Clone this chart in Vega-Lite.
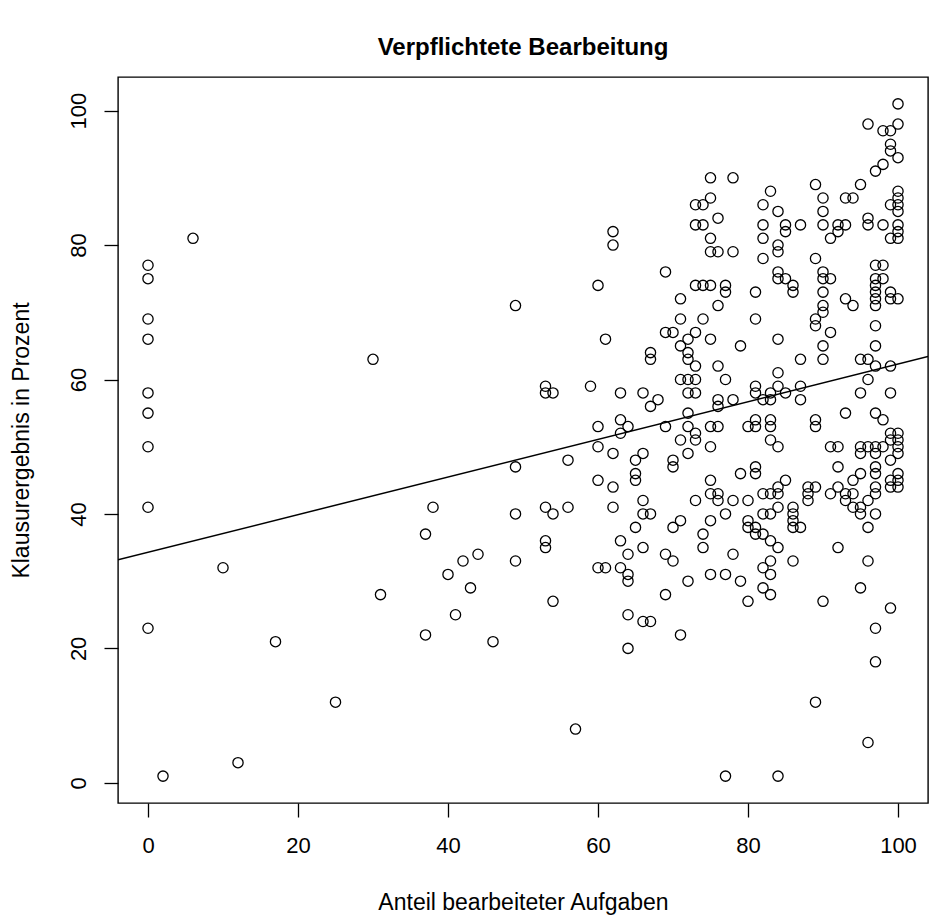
{
  "$schema": "https://vega.github.io/schema/vega-lite/v6.json",
  "width": 810,
  "height": 726,
  "autosize": "none",
  "padding": {"left": 118, "top": 77, "right": 1, "bottom": 114},
  "background": "white",
  "config": {
    "view": {"stroke": "black", "strokeWidth": 1.4},
    "font": "Liberation Sans"
  },
  "title": {
    "text": "Verpflichtete Bearbeitung",
    "fontSize": 24,
    "fontWeight": "bold",
    "font": "Liberation Sans",
    "color": "black",
    "anchor": "middle",
    "offset": 17
  },
  "datasets": {
    "punkte": [
      {"anteil":0,"ergebnis":77},{"anteil":0,"ergebnis":75},{"anteil":0,"ergebnis":69},{"anteil":0,"ergebnis":66},{"anteil":0,"ergebnis":58},{"anteil":0,"ergebnis":55},{"anteil":0,"ergebnis":50},{"anteil":0,"ergebnis":41},{"anteil":0,"ergebnis":23},
      {"anteil":2,"ergebnis":1},{"anteil":6,"ergebnis":81},{"anteil":10,"ergebnis":32},{"anteil":12,"ergebnis":3},{"anteil":17,"ergebnis":21},{"anteil":25,"ergebnis":12},{"anteil":30,"ergebnis":63},{"anteil":31,"ergebnis":28},
      {"anteil":37,"ergebnis":37},{"anteil":37,"ergebnis":22},{"anteil":38,"ergebnis":41},{"anteil":40,"ergebnis":31},{"anteil":41,"ergebnis":25},{"anteil":42,"ergebnis":33},{"anteil":43,"ergebnis":29},{"anteil":44,"ergebnis":34},{"anteil":46,"ergebnis":21},
      {"anteil":49,"ergebnis":71},{"anteil":49,"ergebnis":47},{"anteil":49,"ergebnis":40},{"anteil":49,"ergebnis":33},
      {"anteil":53,"ergebnis":59},{"anteil":53,"ergebnis":58},{"anteil":54,"ergebnis":58},{"anteil":53,"ergebnis":41},{"anteil":54,"ergebnis":40},{"anteil":53,"ergebnis":36},{"anteil":53,"ergebnis":35},{"anteil":54,"ergebnis":27},
      {"anteil":56,"ergebnis":48},{"anteil":56,"ergebnis":41},{"anteil":57,"ergebnis":8},{"anteil":59,"ergebnis":59},
      {"anteil":62,"ergebnis":82},{"anteil":62,"ergebnis":80},{"anteil":60,"ergebnis":74},{"anteil":69,"ergebnis":76},{"anteil":73,"ergebnis":86},{"anteil":74,"ergebnis":86},{"anteil":73,"ergebnis":83},{"anteil":74,"ergebnis":83},{"anteil":73,"ergebnis":74},{"anteil":74,"ergebnis":74},{"anteil":71,"ergebnis":72},{"anteil":71,"ergebnis":69},{"anteil":74,"ergebnis":69},{"anteil":69,"ergebnis":67},{"anteil":70,"ergebnis":67},{"anteil":73,"ergebnis":67},
      {"anteil":61,"ergebnis":66},{"anteil":72,"ergebnis":66},{"anteil":71,"ergebnis":65},{"anteil":72,"ergebnis":64},{"anteil":67,"ergebnis":64},{"anteil":67,"ergebnis":63},{"anteil":72,"ergebnis":63},{"anteil":73,"ergebnis":62},{"anteil":71,"ergebnis":60},{"anteil":72,"ergebnis":60},{"anteil":73,"ergebnis":60},{"anteil":72,"ergebnis":58},{"anteil":73,"ergebnis":58},{"anteil":63,"ergebnis":58},{"anteil":66,"ergebnis":58},{"anteil":68,"ergebnis":57},{"anteil":67,"ergebnis":56},{"anteil":72,"ergebnis":55},{"anteil":63,"ergebnis":54},{"anteil":64,"ergebnis":53},{"anteil":60,"ergebnis":53},{"anteil":63,"ergebnis":52},{"anteil":69,"ergebnis":53},{"anteil":72,"ergebnis":53},{"anteil":73,"ergebnis":52},{"anteil":73,"ergebnis":51},{"anteil":71,"ergebnis":51},{"anteil":60,"ergebnis":50},{"anteil":62,"ergebnis":49},{"anteil":66,"ergebnis":49},{"anteil":65,"ergebnis":48},{"anteil":70,"ergebnis":48},{"anteil":70,"ergebnis":47},{"anteil":72,"ergebnis":49},{"anteil":65,"ergebnis":46},{"anteil":65,"ergebnis":45},{"anteil":60,"ergebnis":45},{"anteil":62,"ergebnis":44},{"anteil":73,"ergebnis":42},{"anteil":66,"ergebnis":42},{"anteil":62,"ergebnis":41},{"anteil":66,"ergebnis":40},{"anteil":67,"ergebnis":40},{"anteil":71,"ergebnis":39},{"anteil":70,"ergebnis":38},{"anteil":65,"ergebnis":38},{"anteil":63,"ergebnis":36},{"anteil":66,"ergebnis":35},{"anteil":64,"ergebnis":34},{"anteil":69,"ergebnis":34},{"anteil":70,"ergebnis":33},{"anteil":60,"ergebnis":32},{"anteil":61,"ergebnis":32},{"anteil":63,"ergebnis":32},{"anteil":64,"ergebnis":31},{"anteil":74,"ergebnis":37},{"anteil":74,"ergebnis":35},
      {"anteil":64,"ergebnis":30},{"anteil":72,"ergebnis":30},{"anteil":69,"ergebnis":28},{"anteil":64,"ergebnis":25},{"anteil":66,"ergebnis":24},{"anteil":67,"ergebnis":24},{"anteil":71,"ergebnis":22},{"anteil":64,"ergebnis":20},
      {"anteil":75,"ergebnis":90},{"anteil":78,"ergebnis":90},{"anteil":75,"ergebnis":87},{"anteil":76,"ergebnis":84},{"anteil":75,"ergebnis":81},{"anteil":75,"ergebnis":79},{"anteil":76,"ergebnis":79},{"anteil":78,"ergebnis":79},{"anteil":75,"ergebnis":74},{"anteil":77,"ergebnis":74},{"anteil":77,"ergebnis":73},{"anteil":76,"ergebnis":71},{"anteil":81,"ergebnis":73},{"anteil":81,"ergebnis":69},{"anteil":83,"ergebnis":88},{"anteil":82,"ergebnis":86},{"anteil":84,"ergebnis":85},{"anteil":82,"ergebnis":83},{"anteil":85,"ergebnis":83},{"anteil":85,"ergebnis":82},{"anteil":87,"ergebnis":83},{"anteil":82,"ergebnis":81},{"anteil":84,"ergebnis":80},{"anteil":84,"ergebnis":79},{"anteil":82,"ergebnis":78},{"anteil":84,"ergebnis":76},{"anteil":84,"ergebnis":75},{"anteil":85,"ergebnis":75},{"anteil":86,"ergebnis":74},{"anteil":86,"ergebnis":73},{"anteil":89,"ergebnis":89},{"anteil":90,"ergebnis":87},{"anteil":90,"ergebnis":85},{"anteil":90,"ergebnis":83},{"anteil":89,"ergebnis":78},{"anteil":90,"ergebnis":76},{"anteil":90,"ergebnis":75},{"anteil":90,"ergebnis":73},{"anteil":89,"ergebnis":69},{"anteil":89,"ergebnis":68},
      {"anteil":100,"ergebnis":101},{"anteil":100,"ergebnis":98},{"anteil":96,"ergebnis":98},{"anteil":98,"ergebnis":97},{"anteil":99,"ergebnis":97},{"anteil":99,"ergebnis":95},{"anteil":99,"ergebnis":94},{"anteil":100,"ergebnis":93},{"anteil":98,"ergebnis":92},{"anteil":97,"ergebnis":91},{"anteil":95,"ergebnis":89},{"anteil":93,"ergebnis":87},{"anteil":94,"ergebnis":87},{"anteil":100,"ergebnis":88},{"anteil":100,"ergebnis":87},{"anteil":100,"ergebnis":86},{"anteil":100,"ergebnis":85},{"anteil":99,"ergebnis":86},{"anteil":96,"ergebnis":84},{"anteil":96,"ergebnis":83},{"anteil":98,"ergebnis":83},{"anteil":100,"ergebnis":83},{"anteil":100,"ergebnis":82},{"anteil":99,"ergebnis":81},{"anteil":100,"ergebnis":81},{"anteil":92,"ergebnis":83},{"anteil":93,"ergebnis":83},{"anteil":92,"ergebnis":82},{"anteil":91,"ergebnis":81},{"anteil":91,"ergebnis":75},{"anteil":97,"ergebnis":77},{"anteil":98,"ergebnis":77},{"anteil":97,"ergebnis":75},{"anteil":98,"ergebnis":75},{"anteil":97,"ergebnis":74},{"anteil":97,"ergebnis":73},{"anteil":97,"ergebnis":72},{"anteil":97,"ergebnis":71},{"anteil":99,"ergebnis":73},{"anteil":99,"ergebnis":72},{"anteil":100,"ergebnis":72},{"anteil":93,"ergebnis":72},{"anteil":94,"ergebnis":71},{"anteil":90,"ergebnis":71},{"anteil":90,"ergebnis":70},{"anteil":91,"ergebnis":67},{"anteil":97,"ergebnis":68},
      {"anteil":75,"ergebnis":66},{"anteil":79,"ergebnis":65},{"anteil":84,"ergebnis":66},{"anteil":90,"ergebnis":65},{"anteil":87,"ergebnis":63},{"anteil":90,"ergebnis":63},{"anteil":76,"ergebnis":62},{"anteil":77,"ergebnis":60},{"anteil":84,"ergebnis":61},{"anteil":81,"ergebnis":59},{"anteil":81,"ergebnis":58},{"anteil":84,"ergebnis":59},{"anteil":83,"ergebnis":58},{"anteil":83,"ergebnis":57},{"anteil":87,"ergebnis":59},{"anteil":85,"ergebnis":58},{"anteil":82,"ergebnis":57},{"anteil":76,"ergebnis":57},{"anteil":76,"ergebnis":56},{"anteil":78,"ergebnis":57},{"anteil":87,"ergebnis":57},{"anteil":75,"ergebnis":53},{"anteil":76,"ergebnis":53},{"anteil":80,"ergebnis":53},{"anteil":81,"ergebnis":53},{"anteil":81,"ergebnis":54},{"anteil":83,"ergebnis":54},{"anteil":83,"ergebnis":53},{"anteil":89,"ergebnis":54},{"anteil":89,"ergebnis":53},{"anteil":75,"ergebnis":50},{"anteil":83,"ergebnis":51},{"anteil":84,"ergebnis":50},{"anteil":81,"ergebnis":47},{"anteil":81,"ergebnis":46},{"anteil":79,"ergebnis":46},{"anteil":85,"ergebnis":45},{"anteil":84,"ergebnis":44},{"anteil":75,"ergebnis":45},{"anteil":88,"ergebnis":44},{"anteil":89,"ergebnis":44},{"anteil":88,"ergebnis":43},{"anteil":88,"ergebnis":42},{"anteil":75,"ergebnis":43},{"anteil":76,"ergebnis":43},{"anteil":76,"ergebnis":42},{"anteil":78,"ergebnis":42},{"anteil":80,"ergebnis":42},{"anteil":82,"ergebnis":43},{"anteil":83,"ergebnis":43},{"anteil":84,"ergebnis":43},{"anteil":86,"ergebnis":41},{"anteil":86,"ergebnis":40},{"anteil":86,"ergebnis":39},{"anteil":86,"ergebnis":38},{"anteil":87,"ergebnis":38},{"anteil":77,"ergebnis":40},{"anteil":82,"ergebnis":40},{"anteil":83,"ergebnis":40},{"anteil":84,"ergebnis":41},{"anteil":75,"ergebnis":39},{"anteil":80,"ergebnis":39},{"anteil":80,"ergebnis":38},{"anteil":81,"ergebnis":38},{"anteil":81,"ergebnis":37},{"anteil":82,"ergebnis":37},{"anteil":83,"ergebnis":36},{"anteil":84,"ergebnis":35},{"anteil":78,"ergebnis":34},{"anteil":86,"ergebnis":33},{"anteil":83,"ergebnis":33},{"anteil":82,"ergebnis":32},{"anteil":75,"ergebnis":31},{"anteil":77,"ergebnis":31},
      {"anteil":79,"ergebnis":30},{"anteil":83,"ergebnis":31},{"anteil":82,"ergebnis":29},{"anteil":83,"ergebnis":28},{"anteil":80,"ergebnis":27},{"anteil":90,"ergebnis":27},{"anteil":89,"ergebnis":12},{"anteil":77,"ergebnis":1},{"anteil":84,"ergebnis":1},
      {"anteil":97,"ergebnis":65},{"anteil":95,"ergebnis":63},{"anteil":96,"ergebnis":63},{"anteil":97,"ergebnis":62},{"anteil":99,"ergebnis":62},{"anteil":96,"ergebnis":60},{"anteil":95,"ergebnis":58},{"anteil":99,"ergebnis":58},{"anteil":93,"ergebnis":55},{"anteil":97,"ergebnis":55},{"anteil":98,"ergebnis":54},{"anteil":99,"ergebnis":52},{"anteil":100,"ergebnis":52},{"anteil":99,"ergebnis":51},{"anteil":100,"ergebnis":51},{"anteil":100,"ergebnis":50},{"anteil":100,"ergebnis":49},{"anteil":91,"ergebnis":50},{"anteil":92,"ergebnis":50},{"anteil":95,"ergebnis":50},{"anteil":96,"ergebnis":50},{"anteil":97,"ergebnis":50},{"anteil":98,"ergebnis":50},{"anteil":95,"ergebnis":49},{"anteil":97,"ergebnis":49},{"anteil":99,"ergebnis":48},{"anteil":92,"ergebnis":47},{"anteil":97,"ergebnis":47},{"anteil":97,"ergebnis":46},{"anteil":95,"ergebnis":46},{"anteil":94,"ergebnis":45},{"anteil":100,"ergebnis":46},{"anteil":100,"ergebnis":45},{"anteil":99,"ergebnis":45},{"anteil":99,"ergebnis":44},{"anteil":100,"ergebnis":44},{"anteil":97,"ergebnis":44},{"anteil":92,"ergebnis":44},{"anteil":91,"ergebnis":43},{"anteil":93,"ergebnis":43},{"anteil":94,"ergebnis":43},{"anteil":93,"ergebnis":42},{"anteil":97,"ergebnis":43},{"anteil":96,"ergebnis":42},{"anteil":94,"ergebnis":41},{"anteil":95,"ergebnis":41},{"anteil":95,"ergebnis":40},{"anteil":97,"ergebnis":40},{"anteil":96,"ergebnis":38},{"anteil":92,"ergebnis":35},{"anteil":96,"ergebnis":33},
      {"anteil":95,"ergebnis":29},{"anteil":99,"ergebnis":26},{"anteil":97,"ergebnis":23},{"anteil":97,"ergebnis":18},{"anteil":96,"ergebnis":6}
    ],
    "regression": [
      {"anteil": -4, "ergebnis": 33.18},
      {"anteil": 104, "ergebnis": 63.42}
    ]
  },
  "layer": [
    {
      "data": {"name": "punkte"},
      "mark": {"type": "point", "shape": "circle", "filled": false, "stroke": "black", "strokeWidth": 1.3, "size": 105, "opacity": 1},
      "encoding": {
        "x": {
          "field": "anteil", "type": "quantitative",
          "scale": {"domain": [-4, 104], "nice": false, "zero": false},
          "axis": {
            "values": [0, 20, 40, 60, 80, 100],
            "domain": false, "grid": false,
            "tickColor": "black", "tickSize": 14, "tickWidth": 1.3,
            "labelFontSize": 22, "labelFont": "Liberation Sans", "labelColor": "black",
            "labelPadding": 18, "labelBaseline": "top", "labelFlush": false,
            "title": "Anteil bearbeiteter Aufgaben",
            "titleFontSize": 23, "titleFontWeight": "normal", "titleFont": "Liberation Sans", "titleColor": "black",
            "titleY": 106, "titleBaseline": "alphabetic"
          }
        },
        "y": {
          "field": "ergebnis", "type": "quantitative",
          "scale": {"domain": [-3, 105], "nice": false, "zero": false},
          "axis": {
            "values": [0, 20, 40, 60, 80, 100],
            "domain": false, "grid": false,
            "tickColor": "black", "tickSize": 14, "tickWidth": 1.3,
            "labelFontSize": 22, "labelFont": "Liberation Sans", "labelColor": "black",
            "labelAngle": -90, "labelAlign": "center", "labelBaseline": "alphabetic",
            "labelPadding": 19, "labelFlush": false,
            "title": "Klausurergebnis in Prozent",
            "titleFontSize": 23, "titleFontWeight": "normal", "titleFont": "Liberation Sans", "titleColor": "black",
            "titleAngle": -90, "titleAlign": "center", "titleBaseline": "alphabetic",
            "titleX": -90, "titleY": 363
          }
        }
      }
    },
    {
      "data": {"name": "regression"},
      "mark": {"type": "line", "color": "black", "strokeWidth": 1.5, "clip": true},
      "encoding": {
        "x": {"field": "anteil", "type": "quantitative"},
        "y": {"field": "ergebnis", "type": "quantitative"}
      }
    }
  ]
}
